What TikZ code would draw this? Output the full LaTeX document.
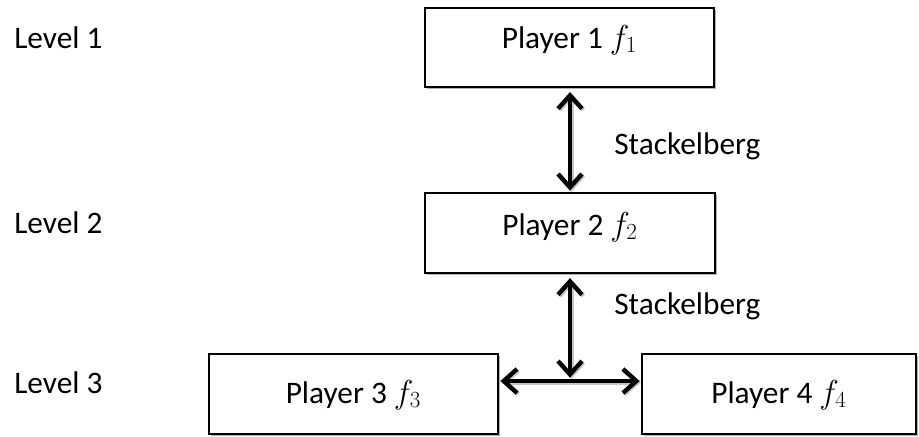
\documentclass[tikz,border=0pt]{standalone}
\usepackage{fontspec}
\setmainfont{Carlito}
\usetikzlibrary{arrows.meta,shadows,calc}
\begin{document}
\begin{tikzpicture}[x=0.75pt,y=-0.75pt,
  font=\fontsize{23.5}{28}\selectfont,
  box/.style={draw=black, line width=1.6pt, fill=white, rectangle, inner sep=0pt,
    drop shadow={shadow xshift=1.6pt, shadow yshift=-1.6pt, fill=gray!60, opacity=1}},
  txt/.style={inner sep=0pt, anchor=base},
  lbl/.style={inner sep=0pt, anchor=base west},
  arr/.style={line width=3.3pt, line cap=round, line join=round,
    {Straight Barb[length=10pt,width=18pt]}-{Straight Barb[length=10pt,width=18pt]},
    preaction={draw=gray!45, line width=3.3pt, transform canvas={shift={(1pt,-1pt)}}}}
]
\useasboundingbox (0,0) rectangle (919,436);

\node[box, minimum width=216.75pt, minimum height=59.25pt] (p1) at (569.5,47.5) {};
\node[box, minimum width=217.5pt, minimum height=60pt] (p2) at (570,233) {};
\node[box, minimum width=216.75pt, minimum height=60pt] (p3) at (353.5,394) {};
\node[box, minimum width=205.5pt, minimum height=60pt] (p4) at (779,394) {};

\node[txt] (t1) at (569.5,48) {Player 1 $f_1$};
\node[txt] (t2) at (570,235) {Player 2 $f_2$};
\node[txt] (t3) at (353.5,403) {Player 3 $f_3$};
\node[txt] (t4) at (779,403) {Player 4 $f_4$};

\node[lbl] (l1) at (14,48) {Level 1};
\node[lbl] (l2) at (14,233) {Level 2};
\node[lbl] (l3) at (14,393) {Level 3};

\node[lbl] (s1) at (614,154) {Stackelberg};
\node[lbl] (s2) at (614,314) {Stackelberg};

\coordinate (j) at (570,381);

\draw[arr, shorten <=3pt, shorten >=1pt] (p1.south -| j) -- (p2.north -| j);
\draw[arr, shorten <=3pt, shorten >=2.5pt] (p2.south -| j) -- (j);
\draw[arr, shorten <=1pt, shorten >=1pt] (p3.east |- j) -- (p4.west |- j);
\end{tikzpicture}
\end{document}
